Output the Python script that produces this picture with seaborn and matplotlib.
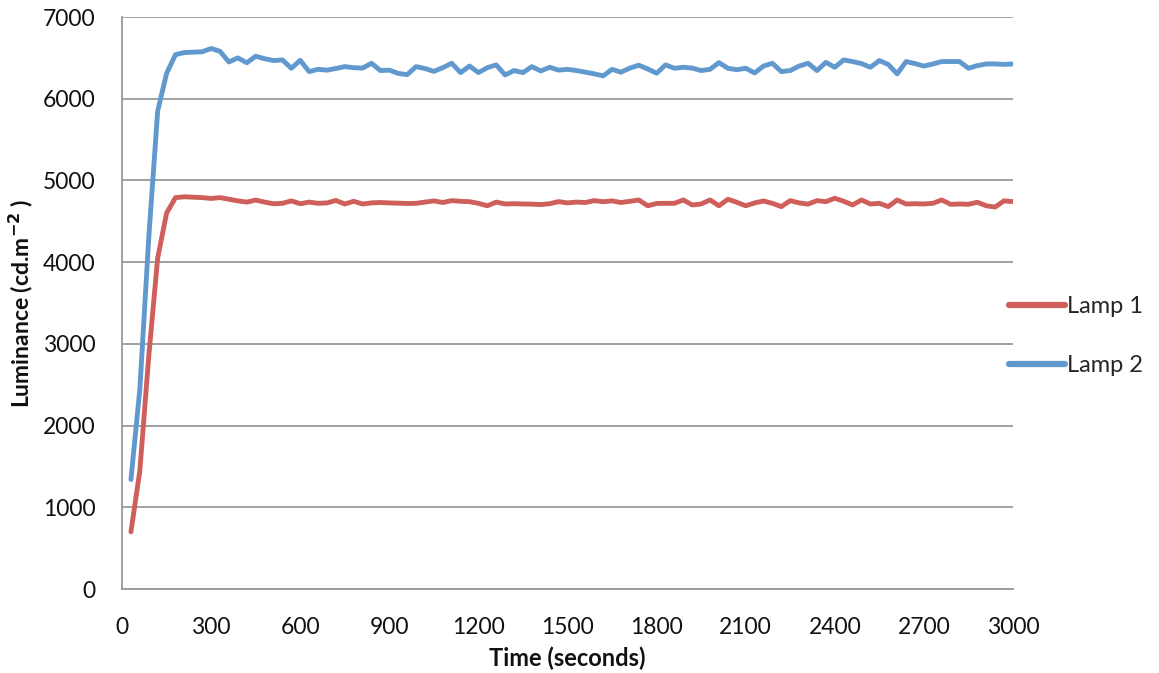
import numpy as np
import pandas as pd
import matplotlib
matplotlib.use("Agg")
import matplotlib.pyplot as plt
import seaborn as sns

# Sample times (seconds) and luminance readings (cd/m^2)
time_s = list(range(30, 3001, 30))

lamp1 = [700, 1450, 2850, 4050, 4600, 4790, 4800, 4795, 4790, 4780,
         4790, 4770, 4750, 4735, 4760, 4735, 4715, 4720, 4750, 4715,
         4735, 4720, 4725, 4755, 4712, 4745, 4712, 4725, 4730, 4725,
         4722, 4718, 4720, 4735, 4750, 4730, 4753, 4745, 4740, 4720,
         4690, 4735, 4712, 4715, 4712, 4710, 4705, 4715, 4741, 4725,
         4735, 4730, 4753, 4740, 4750, 4730, 4745, 4761, 4690, 4718,
         4720, 4720, 4761, 4700, 4712, 4761, 4690, 4770, 4733, 4690,
         4725, 4749, 4720, 4680, 4753, 4725, 4710, 4753, 4740, 4782,
         4745, 4700, 4761, 4712, 4720, 4680, 4761, 4712, 4715, 4712,
         4720, 4761, 4708, 4712, 4708, 4733, 4690, 4675, 4750, 4741]

lamp2 = [1340, 2450, 4300, 5850, 6310, 6540, 6565, 6570, 6575, 6615,
         6580, 6450, 6500, 6440, 6520, 6490, 6467, 6475, 6373, 6470,
         6332, 6360, 6350, 6370, 6393, 6380, 6375, 6434, 6345, 6350,
         6310, 6295, 6393, 6370, 6335, 6380, 6434, 6320, 6400, 6320,
         6380, 6414, 6291, 6345, 6320, 6393, 6340, 6385, 6350, 6360,
         6345, 6325, 6305, 6280, 6360, 6325, 6375, 6410, 6365, 6312,
         6414, 6373, 6385, 6375, 6345, 6360, 6442, 6373, 6355, 6373,
         6316, 6400, 6434, 6332, 6345, 6400, 6434, 6345, 6446, 6385,
         6475, 6455, 6430, 6385, 6467, 6420, 6304, 6455, 6430, 6400,
         6425, 6455, 6455, 6455, 6373, 6405, 6426, 6426, 6420, 6426]

series_names = ["Lamp 1", "Lamp 2"]
series_colors = ["#CF5F5A", "#6199CF"]
x_ticks = list(range(0, 3001, 300))
y_ticks = list(range(0, 7001, 1000))

df = pd.DataFrame({
    "Time": time_s * 2,
    "Luminance": lamp1 + lamp2,
    "Lamp": [series_names[0]] * len(time_s) + [series_names[1]] * len(time_s),
})

sns.set_theme(style="white")
plt.rcParams["font.family"] = ["Lato", "DejaVu Sans"]

fig = plt.figure(figsize=(11.59, 6.73), dpi=100)
ax = fig.add_axes([0.1053, 0.1248, 0.7687, 0.8499])

sns.lineplot(data=df, x="Time", y="Luminance", hue="Lamp",
             palette=dict(zip(series_names, series_colors)),
             linewidth=3.5, ax=ax, legend=False,
             solid_capstyle="round", solid_joinstyle="round")

grid_col = "#9A9A9A"
text_col = "#111111"
ax.set_xlim(0, 3000)
ax.set_ylim(0, 7000)
ax.set_xticks(x_ticks)
ax.set_yticks(y_ticks)
ax.yaxis.grid(True, color=grid_col, linewidth=1.3)
ax.xaxis.grid(False)
ax.set_axisbelow(True)

for side in ["top", "right"]:
    ax.spines[side].set_visible(False)
for side in ["left", "bottom"]:
    ax.spines[side].set_color(grid_col)
    ax.spines[side].set_linewidth(1.3)

ax.tick_params(axis="both", which="major", direction="out", length=7,
               width=1.3, color=grid_col, labelsize=16.5, labelcolor=text_col)
ax.tick_params(axis="x", pad=13)
ax.tick_params(axis="y", pad=12)

ax.set_xlabel("Time (seconds)", fontsize=17, fontweight="bold",
              color=text_col, labelpad=6)
ax.set_ylabel(r"Luminance (cd.m$^{\mathbf{-2}}$ )", fontsize=16.5,
              fontweight="bold", color=text_col, labelpad=6)

handles = [plt.Line2D([], [], color=c, linewidth=4.5, solid_capstyle="round")
           for c in series_colors]
ax.legend(handles, series_names, loc="center left",
          bbox_to_anchor=(0.985, 0.442), frameon=False, fontsize=17,
          handlelength=2.35, handletextpad=0.12, labelspacing=1.6,
          borderaxespad=0.0)

fig.savefig("out.png", dpi=100, facecolor="white")
